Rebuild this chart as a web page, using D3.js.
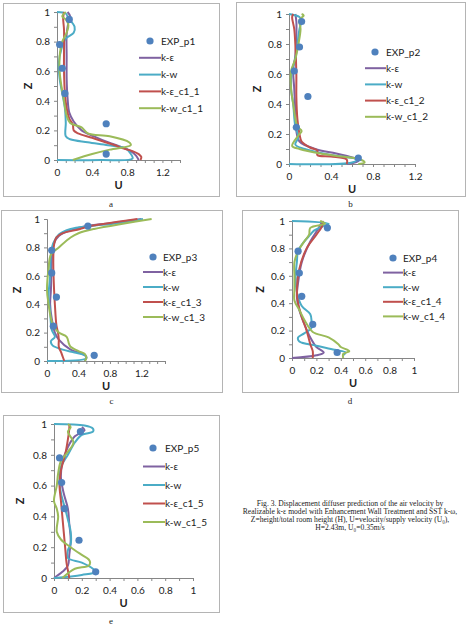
<!DOCTYPE html>
<html>
<head>
<meta charset="utf-8">
<script src="https://cdn.jsdelivr.net/npm/d3@7"></script>
<style>
  body { margin: 0; background: #fff; }
  svg { display: block; }
</style>
</head>
<body>
<svg width="466" height="627"></svg>
<script>
// measured heights (same for every position)
const expZ = [0.95, 0.78, 0.62, 0.45, 0.245, 0.04];

// position 1
const p1_expU = [0.14, 0.03, 0.06, 0.09, 0.56, 0.56];
const p1_ke = [[0.12,1.0],[0.15,0.97],[0.13,0.93],[0.11,0.85],[0.11,0.7],[0.11,0.55],[0.12,0.42],[0.14,0.32],[0.19,0.26],[0.28,0.2],[0.42,0.16],[0.58,0.12],[0.72,0.09],[0.84,0.06],[0.9,0.03],[0.93,0.0]];
const p1_kw = [[0.0,1.0],[0.1,0.99],[0.13,0.96],[0.2,0.9],[0.19,0.86],[0.1,0.82],[0.05,0.75],[0.02,0.65],[0.03,0.55],[0.06,0.45],[0.09,0.35],[0.1,0.25],[0.1,0.16],[0.15,0.14],[0.35,0.12],[0.58,0.1],[0.78,0.08],[0.83,0.05],[0.86,0.01],[0.5,0.0],[0.0,0.0]];
const p1_kec1 = [[0.08,1.0],[0.07,0.96],[0.08,0.88],[0.08,0.75],[0.08,0.6],[0.09,0.45],[0.11,0.35],[0.14,0.28],[0.18,0.24],[0.19,0.2],[0.24,0.18],[0.4,0.15],[0.55,0.12],[0.66,0.1],[0.74,0.08],[0.86,0.06],[0.93,0.04],[0.96,0.02],[0.95,0.0]];
const p1_kwc1 = [[0.1,1.0],[0.06,0.97],[0.1,0.95],[0.13,0.91],[0.11,0.86],[0.06,0.8],[0.03,0.7],[0.03,0.6],[0.05,0.5],[0.08,0.4],[0.11,0.3],[0.15,0.25],[0.28,0.22],[0.35,0.18],[0.6,0.16],[0.82,0.12],[0.84,0.1],[0.6,0.07],[0.4,0.04],[0.18,0.0]];

// position 2
const p2_expU = [0.12, 0.1, 0.05, 0.18, 0.07, 0.66];
const p2_ke = [[0.06,1.0],[0.07,0.95],[0.07,0.85],[0.06,0.72],[0.04,0.63],[0.05,0.5],[0.06,0.35],[0.07,0.22],[0.1,0.15],[0.25,0.1],[0.45,0.07],[0.62,0.04],[0.66,0.02],[0.55,0.0]];
const p2_kw = [[0.0,1.0],[0.1,0.98],[0.12,0.96],[0.1,0.9],[0.08,0.8],[0.06,0.7],[0.03,0.63],[0.02,0.5],[0.04,0.4],[0.06,0.25],[0.09,0.18],[0.06,0.13],[0.15,0.1],[0.4,0.06],[0.65,0.03],[0.6,0.01],[0.0,0.0]];
const p2_kec1 = [[0.04,1.0],[0.03,0.98],[0.05,0.9],[0.06,0.8],[0.07,0.6],[0.07,0.45],[0.08,0.3],[0.1,0.2],[0.12,0.15],[0.2,0.11],[0.27,0.09],[0.27,0.06],[0.4,0.05],[0.55,0.03],[0.55,0.0]];
const p2_kwc1 = [[0.12,1.0],[0.14,0.99],[0.1,0.96],[0.11,0.9],[0.09,0.8],[0.06,0.7],[0.02,0.62],[0.02,0.5],[0.04,0.4],[0.08,0.25],[0.12,0.22],[0.1,0.2],[0.03,0.12],[0.1,0.1],[0.3,0.07],[0.5,0.05],[0.68,0.03],[0.72,0.01],[0.66,0.0]];

// position 3
const p3_expU = [0.52, 0.06, 0.06, 0.12, 0.08, 0.6];
const p3_ke = [[1.2,1.0],[0.8,0.97],[0.5,0.95],[0.3,0.92],[0.15,0.88],[0.08,0.82],[0.06,0.7],[0.05,0.5],[0.04,0.4],[0.06,0.3],[0.1,0.2],[0.15,0.15],[0.3,0.08],[0.45,0.05],[0.5,0.03],[0.48,0.0]];
const p3_kw = [[1.22,1.0],[0.9,0.97],[0.55,0.95],[0.3,0.93],[0.15,0.89],[0.08,0.83],[0.05,0.75],[0.04,0.6],[0.02,0.45],[0.04,0.35],[0.06,0.22],[0.1,0.17],[0.05,0.14],[0.07,0.11],[0.2,0.08],[0.35,0.06],[0.48,0.04],[0.5,0.02],[0.0,0.0]];
const p3_kec1 = [[1.15,1.0],[0.9,0.98],[0.55,0.95],[0.42,0.93],[0.35,0.92],[0.2,0.9],[0.12,0.87],[0.09,0.82],[0.08,0.7],[0.09,0.5],[0.1,0.4],[0.12,0.25],[0.14,0.2],[0.15,0.15],[0.15,0.1],[0.18,0.06],[0.2,0.03],[0.22,0.0]];
const p3_kwc1 = [[1.33,1.0],[1.0,0.97],[0.6,0.93],[0.4,0.9],[0.3,0.87],[0.15,0.8],[0.05,0.75],[0.02,0.65],[0.0,0.5],[0.02,0.4],[0.05,0.3],[0.08,0.25],[0.15,0.2],[0.25,0.17],[0.28,0.12],[0.3,0.1],[0.4,0.07],[0.48,0.05],[0.5,0.02],[0.48,0.0]];

// position 4
const p4_expU = [0.29, 0.05, 0.06, 0.08, 0.17, 0.37];
const p4_ke = [[0.25,1.0],[0.22,0.95],[0.15,0.85],[0.08,0.7],[0.05,0.55],[0.04,0.45],[0.06,0.35],[0.1,0.25],[0.15,0.15],[0.2,0.08],[0.26,0.04],[0.2,0.02],[0.0,0.0]];
const p4_kw = [[0.0,1.0],[0.3,0.98],[0.25,0.96],[0.18,0.93],[0.15,0.9],[0.1,0.85],[0.05,0.78],[0.04,0.7],[0.03,0.6],[0.04,0.48],[0.08,0.38],[0.15,0.32],[0.16,0.27],[0.16,0.22],[0.1,0.18],[0.05,0.15],[0.06,0.12],[0.2,0.09],[0.35,0.06],[0.44,0.04],[0.42,0.02]];
const p4_kec1 = [[0.25,1.0],[0.25,0.97],[0.2,0.9],[0.12,0.8],[0.06,0.65],[0.04,0.5],[0.05,0.4],[0.08,0.3],[0.12,0.2],[0.15,0.1],[0.17,0.05],[0.17,0.0]];
const p4_kwc1 = [[0.23,1.0],[0.27,0.98],[0.15,0.95],[0.14,0.9],[0.1,0.85],[0.05,0.78],[0.02,0.7],[0.02,0.6],[0.02,0.5],[0.02,0.42],[0.06,0.35],[0.12,0.25],[0.17,0.19],[0.3,0.15],[0.38,0.1],[0.4,0.08],[0.47,0.05],[0.42,0.03],[0.42,0.0]];

// position 5
const p5_expU = [0.19, 0.04, 0.055, 0.075, 0.18, 0.3];
const p5_ke = [[0.2,0.98],[0.22,0.96],[0.15,0.92],[0.1,0.85],[0.06,0.75],[0.05,0.65],[0.07,0.55],[0.1,0.45],[0.11,0.35],[0.12,0.25],[0.11,0.15],[0.1,0.08],[0.06,0.04],[0.0,0.0]];
const p5_kw = [[0.0,1.0],[0.22,0.99],[0.28,0.97],[0.28,0.95],[0.2,0.93],[0.15,0.88],[0.1,0.8],[0.05,0.72],[0.04,0.62],[0.05,0.55],[0.08,0.45],[0.1,0.38],[0.12,0.3],[0.12,0.22],[0.1,0.18],[0.1,0.13],[0.2,0.1],[0.28,0.06],[0.3,0.04],[0.2,0.02],[0.0,0.0]];
const p5_kec1 = [[0.11,1.0],[0.11,0.97],[0.1,0.9],[0.08,0.8],[0.05,0.7],[0.04,0.6],[0.05,0.5],[0.06,0.4],[0.07,0.3],[0.08,0.2],[0.09,0.1],[0.1,0.05],[0.11,0.0]];
const p5_kwc1 = [[0.1,1.0],[0.12,0.98],[0.1,0.95],[0.14,0.88],[0.1,0.82],[0.05,0.76],[0.03,0.68],[0.02,0.6],[0.0,0.5],[0.02,0.45],[0.03,0.4],[0.02,0.3],[0.05,0.25],[0.12,0.2],[0.2,0.15],[0.25,0.12],[0.26,0.1],[0.25,0.08],[0.15,0.06],[0.1,0.03],[0.06,0.0]];

const seriesNames = ["k-ε", "k-w", "k-ε_c1_", "k-w_c1_"];
const colors = ["#7F62A1", "#4BACC6", "#C0504D", "#9BBB59"];
const expColor = "#4F81BD";

const caption = [
  "Fig. 3. Displacement diffuser prediction of the air velocity by",
  "Realizable k-ε model with Enhancement Wall Treatment and SST k-ω,",
  "Z=height/total room height (H), U=velocity/supply velocity (U₀),",
  "H=2.43m, U₀=0.35m/s"
];

// layout of each small chart
const panels = [
  { n: 1, exp: p1_expU, lines: [p1_ke, p1_kw, p1_kec1, p1_kwc1], box: [3, 3, 219, 196], xr: [57, 180], xmax: 1.4, step: 0.4, yr: [160, 12], zx: 28, tag: "a", tagY: 204, leg: { mx: 150, l1: 139, l2: 161, tx: 161, y0: 41, dy: 16.8 } },
  { n: 2, exp: p2_expU, lines: [p2_ke, p2_kw, p2_kec1, p2_kwc1], box: [236, 2, 465, 196], xr: [289, 415], xmax: 1.2, step: 0.4, yr: [164, 14], zx: 257, tag: "b", tagY: 204, leg: { mx: 375, l1: 365, l2: 386, tx: 386, y0: 52, dy: 16.2 } },
  { n: 3, exp: p3_expU, lines: [p3_ke, p3_kw, p3_kec1, p3_kwc1], box: [1, 210, 222, 392], xr: [47, 165], xmax: 1.5, step: 0.4, yr: [361, 219], zx: 17, tag: "c", tagY: 401, leg: { mx: 153, l1: 143, l2: 163, tx: 163, y0: 257, dy: 15 } },
  { n: 4, exp: p4_expU, lines: [p4_ke, p4_kw, p4_kec1, p4_kwc1], box: [242, 210, 458, 392], xr: [292, 414], xmax: 1.0, step: 0.2, yr: [358, 221], zx: 260, tag: "d", tagY: 401, leg: { mx: 393, l1: 383, l2: 403, tx: 403, y0: 258, dy: 14.6 } },
  { n: 5, exp: p5_expU, lines: [p5_ke, p5_kw, p5_kec1, p5_kwc1], box: [3, 415, 219, 612], xr: [54, 193], xmax: 1.0, step: 0.2, yr: [578, 424], zx: 20, tag: "e", tagY: 621, leg: { mx: 153, l1: 143, l2: 165, tx: 165, y0: 448, dy: 18.5 } }
];

const svg = d3.select("svg");
const font = "Lato, 'Liberation Sans', sans-serif";
const fmt = d => String(+d.toFixed(1));

panels.forEach(p => {
  const g = svg.append("g");
  const [bx0, by0, bx1, by1] = p.box;

  g.append("rect")
    .attr("x", bx0 + 0.5).attr("y", by0 + 0.5)
    .attr("width", bx1 - bx0).attr("height", by1 - by0)
    .attr("fill", "#fff").attr("stroke", "#b4b4b4").attr("stroke-width", 1);

  const x = d3.scaleLinear().domain([0, p.xmax]).range(p.xr);
  const y = d3.scaleLinear().domain([0, 1]).range(p.yr);

  const isMajor = (d, s) => Math.abs(d / s - Math.round(d / s)) < 1e-6;

  const xAxis = d3.axisBottom(x)
    .tickValues(d3.range(0, p.xmax + 1e-6, 0.1).map(v => +v.toFixed(2)))
    .tickSize(3).tickPadding(6)
    .tickFormat(d => isMajor(d, p.step) ? fmt(d) : "");
  const yAxis = d3.axisLeft(y)
    .tickValues(d3.range(0, 1.0001, 0.1).map(v => +v.toFixed(2)))
    .tickSize(3).tickPadding(4)
    .tickFormat(d => isMajor(d, 0.2) ? fmt(d) : "");

  [[xAxis, `translate(0,${p.yr[0]})`], [yAxis, `translate(${p.xr[0]},0)`]].forEach(([ax, tr]) => {
    const a = g.append("g").attr("transform", tr).call(ax);
    a.select(".domain").attr("stroke", "#868686");
    a.selectAll(".tick line").attr("stroke", "#868686");
    a.selectAll("text").attr("fill", "#222").style("font-family", font).style("font-size", "10px");
  });

  // axis titles
  g.append("text")
    .attr("x", (p.xr[0] + p.xr[1]) / 2).attr("y", p.yr[0] + 29)
    .attr("text-anchor", "middle")
    .style("font-family", font).style("font-size", "11px").style("font-weight", "bold")
    .attr("fill", "#222").text("U");
  g.append("text")
    .attr("transform", `translate(${p.zx},${(p.yr[0] + p.yr[1]) / 2}) rotate(-90)`)
    .attr("text-anchor", "middle").attr("dy", "0.35em")
    .style("font-family", font).style("font-size", "11px").style("font-weight", "bold")
    .attr("fill", "#222").text("Z");

  // simulated profiles
  const line = d3.line()
    .x(d => x(d[0])).y(d => y(d[1]))
    .curve(d3.curveCatmullRom.alpha(0.5));
  p.lines.forEach((data, i) => {
    g.append("path")
      .attr("d", line(data))
      .attr("fill", "none")
      .attr("stroke", colors[i])
      .attr("stroke-width", 2)
      .attr("stroke-linejoin", "round");
  });

  // measurements
  g.selectAll("circle.exp").data(p.exp).join("circle")
    .attr("class", "exp")
    .attr("cx", d => x(d))
    .attr("cy", (d, i) => y(expZ[i]))
    .attr("r", 3.6)
    .attr("fill", expColor);

  // legend
  const L = p.leg;
  const lg = g.append("g").style("font-family", font).style("font-size", "10px");
  lg.append("circle").attr("cx", L.mx).attr("cy", L.y0).attr("r", 3.6).attr("fill", expColor);
  lg.append("text").attr("x", L.tx).attr("y", L.y0).attr("dy", "0.35em").attr("fill", "#222").text("EXP_p" + p.n);
  seriesNames.forEach((name, i) => {
    const yy = L.y0 + L.dy * (i + 1);
    lg.append("line").attr("x1", L.l1).attr("x2", L.l2).attr("y1", yy).attr("y2", yy)
      .attr("stroke", colors[i]).attr("stroke-width", 2);
    lg.append("text").attr("x", L.tx).attr("y", yy).attr("dy", "0.35em").attr("fill", "#222")
      .text(i >= 2 ? name + p.n : name);
  });

  // sub-figure letter
  svg.append("text")
    .attr("x", (bx0 + bx1) / 2).attr("y", p.tagY).attr("dy", "0.35em")
    .attr("text-anchor", "middle")
    .style("font-family", "'Liberation Serif', serif").style("font-size", "9px")
    .attr("fill", "#222").text(p.tag);
});

// figure caption
svg.append("g").selectAll("text").data(caption).join("text")
  .attr("x", 350).attr("y", (d, i) => 503 + i * 8.2).attr("dy", "0.35em")
  .attr("text-anchor", "middle")
  .style("font-family", "'Liberation Serif', serif").style("font-size", "7.6px")
  .attr("fill", "#222")
  .text(d => d);
</script>
</body>
</html>
